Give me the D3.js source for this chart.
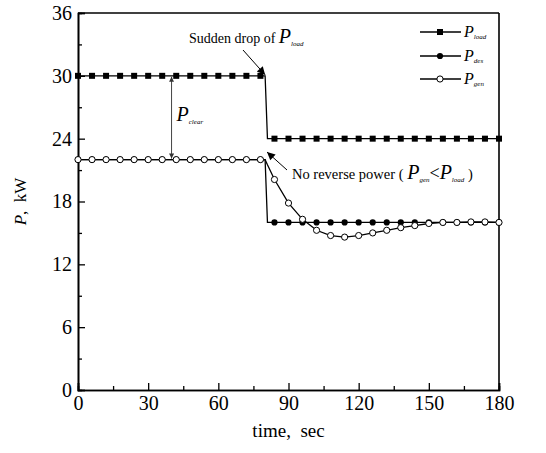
<!DOCTYPE html>
<html>
<head>
<meta charset="utf-8">
<script src="https://cdn.jsdelivr.net/npm/d3@7"></script>
<style>
  html, body { margin: 0; padding: 0; background: #fff; }
  svg { display: block; }
  svg text { font-family: "Liberation Serif", "Times New Roman", Times, "DejaVu Serif", serif; fill: #000; }
</style>
</head>
<body>
<svg id="chart" width="546" height="453"></svg>
<script>
// ---- data ----
const time = [0,6,12,18,24,30,36,42,48,54,60,66,72,78,80,81,84,90,96,102,108,114,120,126,132,138,144,150,156,162,168,174,180];
const pLoad = [30,30,30,30,30,30,30,30,30,30,30,30,30,30,30,24,24,24,24,24,24,24,24,24,24,24,24,24,24,24,24,24,24];
const pDes  = [22,22,22,22,22,22,22,22,22,22,22,22,22,22,22,16,16,16,16,16,16,16,16,16,16,16,16,16,16,16,16,16,16];
const pGen  = [22,22,22,22,22,22,22,22,22,22,22,22,22,22,22,21.5,20.1,17.85,16.3,15.25,14.75,14.6,14.75,15.0,15.25,15.5,15.7,15.9,16.0,16.0,16.05,16.05,16.0];
const xTicks = [0,30,60,90,120,150,180];
const xMinor = [15,45,75,105,135,165];
const yTicks = [0,6,12,18,24,30,36];
const yMinor = [3,9,15,21,27,33];
const markerStep = 6;

const svg = d3.select("#chart");
const L = 78, R = 499, T = 13, B = 390;
const x = d3.scaleLinear().domain([0,180]).range([L,R]);
const y = d3.scaleLinear().domain([0,36]).range([B,T]);

// frame (top & right)
svg.append("line").attr("x1",L).attr("x2",R).attr("y1",T).attr("y2",T).attr("stroke","#000").attr("stroke-width",1.3);
svg.append("line").attr("x1",R).attr("x2",R).attr("y1",T).attr("y2",B).attr("stroke","#000").attr("stroke-width",1.6);

// axes
const fontTick = 20;
const gx = svg.append("g").attr("transform",`translate(0,${B})`)
  .call(d3.axisBottom(x).tickValues(xTicks).tickSize(-7).tickPadding(6).tickFormat(d3.format("d")));
const gxm = svg.append("g").attr("transform",`translate(0,${B})`)
  .call(d3.axisBottom(x).tickValues(xMinor).tickSize(-4).tickFormat(""));
const gy = svg.append("g").attr("transform",`translate(${L},0)`)
  .call(d3.axisLeft(y).tickValues(yTicks).tickSize(-7).tickPadding(6).tickFormat(d3.format("d")));
const gym = svg.append("g").attr("transform",`translate(${L},0)`)
  .call(d3.axisLeft(y).tickValues(yMinor).tickSize(-4).tickFormat(""));
[gx,gxm,gy,gym].forEach(g => {
  g.attr("font-family",null).attr("font-size",null);
  g.select(".domain").attr("stroke","#000").attr("stroke-width",1.6);
  g.selectAll(".tick line").attr("stroke","#000").attr("stroke-width",1.3);
  g.selectAll("text").attr("font-size",fontTick).attr("fill","#000");
});

// axis titles
svg.append("text").attr("x",(L+R)/2).attr("y",437).attr("text-anchor","middle").attr("font-size",19)
  .text("time,\u00a0\u00a0sec");
const yl = svg.append("text").attr("transform",`translate(26,${(T+B)/2}) rotate(-90)`).attr("text-anchor","middle").attr("font-size",17);
yl.append("tspan").attr("font-style","italic").text("P");
yl.append("tspan").text(",\u00a0\u00a0kW");

// series
const data = time.map((t,i)=>({t, load:pLoad[i], des:pDes[i], gen:pGen[i]}));
const lineOf = key => d3.line().x(d=>x(d.t)).y(d=>y(d[key]));
const mk = data.filter(d => d.t % markerStep === 0);

function series(key, shape){
  svg.append("path").datum(data).attr("d", lineOf(key)).attr("fill","none").attr("stroke","#000").attr("stroke-width",1.3);
  const g = svg.append("g");
  if (shape === "square") {
    g.selectAll("rect").data(mk).join("rect")
      .attr("x",d=>x(d.t)-3).attr("y",d=>y(d[key])-3).attr("width",6).attr("height",6).attr("fill","#000");
  } else if (shape === "filled") {
    g.selectAll("circle").data(mk).join("circle")
      .attr("cx",d=>x(d.t)).attr("cy",d=>y(d[key])).attr("r",3.1).attr("fill","#000");
  } else {
    g.selectAll("circle").data(mk).join("circle")
      .attr("cx",d=>x(d.t)).attr("cy",d=>y(d[key])).attr("r",3.1).attr("fill","#fff").attr("stroke","#000").attr("stroke-width",1);
  }
}
series("load","square");
series("des","filled");
series("gen","open");

// arrow markers
const defs = svg.append("defs");
defs.append("marker").attr("id","ah").attr("viewBox","0 0 10 10").attr("refX",10).attr("refY",5)
  .attr("markerWidth",10).attr("markerHeight",8).attr("markerUnits","userSpaceOnUse").attr("orient","auto")
  .append("path").attr("d","M0,0 L10,5 L0,10 Z").attr("fill","#000");
defs.append("marker").attr("id","sh").attr("viewBox","0 0 10 10").attr("refX",10).attr("refY",5)
  .attr("markerWidth",6).attr("markerHeight",5).attr("markerUnits","userSpaceOnUse").attr("orient","auto-start-reverse")
  .append("path").attr("d","M0,0 L10,5 L0,10 Z").attr("fill","#333");

// P_clear double arrow at t = 40
svg.append("line").attr("x1",x(40)).attr("x2",x(40)).attr("y1",y(30)+1).attr("y2",y(22)-1)
  .attr("stroke","#444").attr("stroke-width",1).attr("marker-start","url(#sh)").attr("marker-end","url(#sh)");
const pc = svg.append("text").attr("x",x(40)+5).attr("y",121);
pc.append("tspan").attr("font-style","italic").attr("font-size",20).text("P");
pc.append("tspan").attr("font-style","italic").attr("font-size",7).attr("dy",3).text("clear");

// annotation 1
const a1 = svg.append("text").attr("x",189).attr("y",43).attr("font-size",14);
a1.append("tspan").text("Sudden drop of ");
a1.append("tspan").attr("font-style","italic").attr("font-size",20).text("P");
a1.append("tspan").attr("font-style","italic").attr("font-size",7).attr("dy",3).text("load");
svg.append("line").attr("x1",243).attr("y1",50).attr("x2",x(80)).attr("y2",y(30)-1)
  .attr("stroke","#000").attr("stroke-width",1).attr("marker-end","url(#ah)");

// annotation 2
const a2 = svg.append("text").attr("x",292).attr("y",179).attr("font-size",14.5);
a2.append("tspan").text("No reverse power ( ");
a2.append("tspan").attr("font-style","italic").attr("font-size",20).text("P");
a2.append("tspan").attr("font-style","italic").attr("font-size",7).attr("dy",3).text("gen");
a2.append("tspan").attr("font-size",18).attr("dy",-3).text("<");
a2.append("tspan").attr("font-style","italic").attr("font-size",20).text("P");
a2.append("tspan").attr("font-style","italic").attr("font-size",7).attr("dy",3).text("load");
a2.append("tspan").attr("font-size",14.5).attr("dy",-3).text(" )");
svg.append("line").attr("x1",287).attr("y1",170).attr("x2",267).attr("y2",152)
  .attr("stroke","#000").attr("stroke-width",1).attr("marker-end","url(#ah)");

// legend
const legend = [
  {name:"load", shape:"square", y:32},
  {name:"des", shape:"filled", y:56},
  {name:"gen", shape:"open", y:79}
];
const lx1 = 420, lx2 = 461, lmx = 440;
legend.forEach(l => {
  svg.append("line").attr("x1",lx1).attr("x2",lx2).attr("y1",l.y).attr("y2",l.y).attr("stroke","#000").attr("stroke-width",1.3);
  if (l.shape==="square") svg.append("rect").attr("x",lmx-3).attr("y",l.y-3).attr("width",6).attr("height",6).attr("fill","#000");
  else if (l.shape==="filled") svg.append("circle").attr("cx",lmx).attr("cy",l.y).attr("r",3.1).attr("fill","#000");
  else svg.append("circle").attr("cx",lmx).attr("cy",l.y).attr("r",3.1).attr("fill","#fff").attr("stroke","#000");
  const t = svg.append("text").attr("x",464).attr("y",l.y+5);
  t.append("tspan").attr("font-style","italic").attr("font-size",16).text("P");
  t.append("tspan").attr("font-style","italic").attr("font-size",7).attr("dy",2).text(l.name);
});
</script>
</body>
</html>
